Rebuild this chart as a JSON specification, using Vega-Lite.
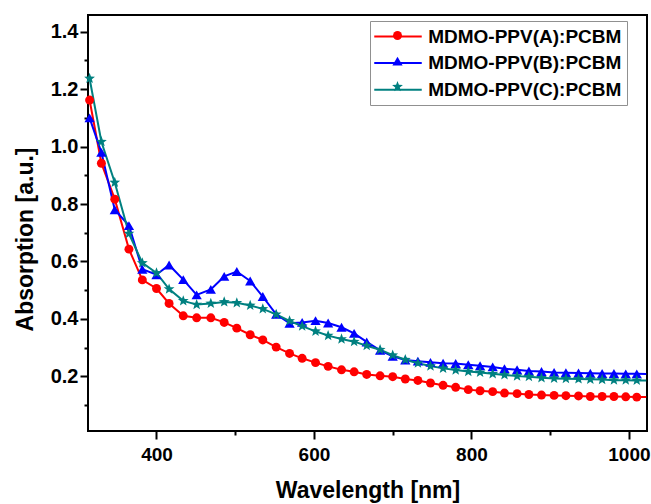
{
  "$schema": "https://vega.github.io/schema/vega-lite/v6.json",
  "width": 559,
  "height": 416,
  "autosize": {"type": "none"},
  "padding": {"left": 88, "top": 15, "right": 4, "bottom": 73},
  "background": "white",
  "config": {
    "view": {"stroke": "black", "strokeWidth": 2},
    "font": "Liberation Sans"
  },
  "datasets": {
    "spectra": [
      {"wl": 315, "A": 1.162, "B": 1.100, "C": 1.237},
      {"wl": 330, "A": 0.942, "B": 0.980, "C": 1.017},
      {"wl": 347, "A": 0.817, "B": 0.780, "C": 0.875},
      {"wl": 365, "A": 0.643, "B": 0.725, "C": 0.697},
      {"wl": 382, "A": 0.536, "B": 0.573, "C": 0.595},
      {"wl": 400, "A": 0.506, "B": 0.554, "C": 0.560},
      {"wl": 416, "A": 0.454, "B": 0.588, "C": 0.504},
      {"wl": 434, "A": 0.411, "B": 0.537, "C": 0.463},
      {"wl": 451, "A": 0.404, "B": 0.484, "C": 0.450},
      {"wl": 469, "A": 0.404, "B": 0.503, "C": 0.454},
      {"wl": 486, "A": 0.388, "B": 0.548, "C": 0.459},
      {"wl": 502, "A": 0.368, "B": 0.565, "C": 0.456},
      {"wl": 519, "A": 0.345, "B": 0.532, "C": 0.447},
      {"wl": 535, "A": 0.327, "B": 0.478, "C": 0.435},
      {"wl": 552, "A": 0.302, "B": 0.416, "C": 0.416},
      {"wl": 569, "A": 0.280, "B": 0.385, "C": 0.393},
      {"wl": 585, "A": 0.263, "B": 0.388, "C": 0.375},
      {"wl": 602, "A": 0.248, "B": 0.394, "C": 0.357},
      {"wl": 618, "A": 0.235, "B": 0.386, "C": 0.342},
      {"wl": 635, "A": 0.223, "B": 0.371, "C": 0.330},
      {"wl": 651, "A": 0.216, "B": 0.350, "C": 0.321},
      {"wl": 667, "A": 0.207, "B": 0.320, "C": 0.307},
      {"wl": 684, "A": 0.202, "B": 0.291, "C": 0.293},
      {"wl": 700, "A": 0.199, "B": 0.270, "C": 0.274},
      {"wl": 716, "A": 0.191, "B": 0.257, "C": 0.258},
      {"wl": 732, "A": 0.186, "B": 0.253, "C": 0.246},
      {"wl": 748, "A": 0.177, "B": 0.249, "C": 0.236},
      {"wl": 764, "A": 0.169, "B": 0.246, "C": 0.228},
      {"wl": 780, "A": 0.162, "B": 0.245, "C": 0.222},
      {"wl": 796, "A": 0.154, "B": 0.241, "C": 0.217},
      {"wl": 811, "A": 0.150, "B": 0.237, "C": 0.214},
      {"wl": 827, "A": 0.147, "B": 0.233, "C": 0.209},
      {"wl": 842, "A": 0.142, "B": 0.227, "C": 0.205},
      {"wl": 858, "A": 0.140, "B": 0.223, "C": 0.201},
      {"wl": 873, "A": 0.137, "B": 0.219, "C": 0.199},
      {"wl": 889, "A": 0.135, "B": 0.217, "C": 0.195},
      {"wl": 905, "A": 0.134, "B": 0.214, "C": 0.193},
      {"wl": 920, "A": 0.133, "B": 0.213, "C": 0.192},
      {"wl": 936, "A": 0.132, "B": 0.212, "C": 0.191},
      {"wl": 951, "A": 0.130, "B": 0.211, "C": 0.190},
      {"wl": 966, "A": 0.130, "B": 0.210, "C": 0.189},
      {"wl": 981, "A": 0.130, "B": 0.210, "C": 0.187},
      {"wl": 996, "A": 0.129, "B": 0.209, "C": 0.187},
      {"wl": 1010, "A": 0.128, "B": 0.209, "C": 0.186},
      {"wl": 1022, "A": 0.128, "B": 0.208, "C": 0.186}
    ]
  },
  "data": {"name": "spectra"},
  "resolve": {"axis": {"y": "independent"}},
  "layer": [
    {
      "transform": [{"fold": ["A", "B", "C"], "as": ["s", "v"]}],
      "mark": {"type": "line", "strokeWidth": 2, "clip": true},
      "encoding": {
        "x": {
          "field": "wl",
          "type": "quantitative",
          "scale": {"domain": [313, 1023], "nice": false, "zero": false},
          "axis": {
            "title": "Wavelength [nm]",
            "values": [400, 500, 600, 700, 800, 900, 1000],
            "format": "d",
            "labelExpr": "datum.value % 200 === 0 ? datum.label : ''",
            "labelOverlap": false,
            "tickSize": {"condition": {"test": "datum.value % 200 === 0", "value": 8}, "value": 4},
            "tickWidth": 2,
            "tickColor": "black",
            "domain": false,
            "grid": false,
            "labelFont": "Liberation Sans",
            "labelFontWeight": "bold",
            "labelFontSize": 19,
            "labelColor": "black",
            "labelPadding": 6,
            "titleFont": "Liberation Sans",
            "titleFontWeight": "bold",
            "titleFontSize": 23,
            "titleColor": "black",
            "titleY": 59,
            "titleBaseline": "middle"
          }
        },
        "y": {
          "field": "v",
          "type": "quantitative",
          "scale": {"domain": [0.01, 1.458], "nice": false, "zero": false},
          "axis": {
            "orient": "left",
            "title": "Absorption [a.u.]",
            "values": [0.2, 0.4, 0.6, 0.8, 1.0, 1.2, 1.4],
            "format": ".1f",
            "labelOverlap": false,
            "tickSize": 8,
            "tickWidth": 2,
            "tickColor": "black",
            "domain": false,
            "grid": false,
            "labelFont": "Liberation Sans",
            "labelFontWeight": "bold",
            "labelFontSize": 20,
            "labelColor": "black",
            "labelPadding": 2,
            "titleFont": "Liberation Sans",
            "titleFontWeight": "bold",
            "titleFontSize": 23,
            "titleColor": "black",
            "titleX": -63,
            "titleY": 224,
            "titleBaseline": "middle"
          }
        },
        "color": {
          "field": "s",
          "type": "nominal",
          "scale": {"range": ["#ff0000", "#0000ff", "#008080"]},
          "legend": {
            "orient": "none",
            "legendX": 282,
            "legendY": 6,
            "title": null,
            "symbolType": "M-2.5,0H2.5",
            "symbolSize": 361,
            "symbolStrokeWidth": 2,
            "symbolOffset": 12.5,
            "labelOffset": 19.7,
            "labelFont": "Liberation Sans",
            "labelFontWeight": "bold",
            "labelFontSize": 19,
            "labelColor": "black",
            "labelLimit": 400,
            "labelExpr": "datum.label == 'A' ? 'MDMO-PPV(A):PCBM' : datum.label == 'B' ? 'MDMO-PPV(B):PCBM' : 'MDMO-PPV(C):PCBM'",
            "rowPadding": 5.6,
            "padding": 5,
            "strokeColor": "#909090"
          }
        }
      }
    },
    {
      "transform": [
        {"filter": "datum.wl < 1015"},
        {"fold": ["A", "B", "C"], "as": ["series", "v"]}
      ],
      "mark": {"type": "point", "filled": true, "opacity": 1, "strokeWidth": 0},
      "encoding": {
        "x": {"field": "wl", "type": "quantitative"},
        "y": {
          "field": "v",
          "type": "quantitative",
          "axis": {
            "orient": "left",
            "title": null,
            "values": [0.1, 0.3, 0.5, 0.7, 0.9, 1.1, 1.3],
            "labels": false,
            "tickSize": 4,
            "tickWidth": 2,
            "tickColor": "black",
            "domain": false,
            "grid": false
          }
        },
        "fill": {
          "field": "series",
          "type": "nominal",
          "scale": {"range": ["#ff0000", "#0000ff", "#008080"]},
          "legend": {"orient": "none", "legendX": 295, "legendY": 6, "title": null, "padding": 5, "rowPadding": 5.6, "labelFontSize": 19, "labelFont": "Liberation Sans", "labelFontWeight": "bold", "labelColor": "transparent", "symbolStrokeWidth": 0, "symbolOpacity": 1}
        },
        "shape": {
          "field": "series",
          "type": "nominal",
          "scale": {"range": ["circle", "triangle-up", "M0,-1L0.247,-0.34L0.951,-0.309L0.399,0.13L0.588,0.809L0,0.42L-0.588,0.809L-0.399,0.13L-0.951,-0.309L-0.247,-0.34Z"]},
          "legend": {"orient": "none", "legendX": 295, "legendY": 6, "title": null, "padding": 5, "rowPadding": 5.6, "labelFontSize": 19, "labelFont": "Liberation Sans", "labelFontWeight": "bold", "labelColor": "transparent", "symbolStrokeWidth": 0, "symbolOpacity": 1}
        },
        "size": {
          "field": "series",
          "type": "ordinal",
          "scale": {"range": [80, 130, 150]},
          "legend": {"orient": "none", "legendX": 295, "legendY": 6, "title": null, "padding": 5, "rowPadding": 5.6, "labelFontSize": 19, "labelFont": "Liberation Sans", "labelFontWeight": "bold", "labelColor": "transparent", "symbolStrokeWidth": 0, "symbolOpacity": 1}
        }
      }
    }
  ]
}
